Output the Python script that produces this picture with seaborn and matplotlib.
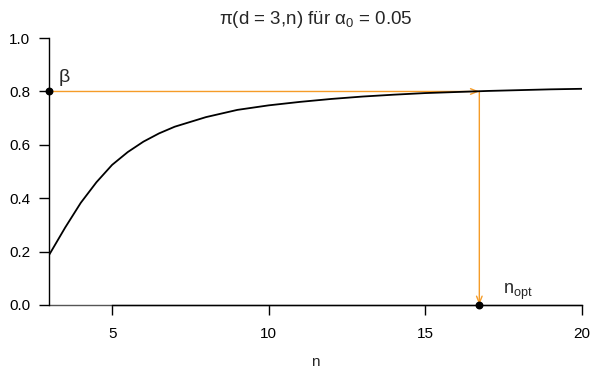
import matplotlib
matplotlib.use('Agg')
import matplotlib.pyplot as plt
import seaborn as sns
import pandas as pd

# power curve
n_vals = [3, 3.5, 4, 4.5, 5, 5.5, 6, 6.5, 7, 8, 9, 10, 11, 12, 13, 14, 15, 16, 17, 18, 19, 20]
power = [0.19, 0.29, 0.383, 0.46, 0.525, 0.573, 0.612, 0.643, 0.668, 0.704, 0.731, 0.748,
         0.761, 0.772, 0.781, 0.788, 0.794, 0.798, 0.802, 0.805, 0.808, 0.810]
beta = 0.8
n_opt = 16.73
x_ticks = [5, 10, 15, 20]
y_ticks = [0.0, 0.2, 0.4, 0.6, 0.8, 1.0]

df = pd.DataFrame({'n': n_vals, 'power': power})

sns.set_style('white')
plt.rcParams['font.family'] = ['Liberation Sans', 'DejaVu Sans']
plt.rcParams['mathtext.fontset'] = 'custom'
plt.rcParams['mathtext.rm'] = 'Liberation Sans'
plt.rcParams['mathtext.it'] = 'Liberation Sans'

fig = plt.figure(figsize=(5.92, 3.81), dpi=100)
ax = fig.add_axes([0.0836, 0.1995, 0.8990, 0.7005])

orange = '#F59C28'
ax.axhline(0, color='#555555', lw=1, zorder=2, clip_on=False)
sns.lineplot(data=df, x='n', y='power', ax=ax, color='black', lw=1.3, zorder=3)

ax.annotate('', xy=(n_opt, beta), xytext=(3, beta),
            arrowprops=dict(arrowstyle='->,head_length=0.5,head_width=0.2', color=orange, lw=1,
                            shrinkA=0, shrinkB=0), zorder=2)
ax.annotate('', xy=(n_opt, 0), xytext=(n_opt, beta),
            arrowprops=dict(arrowstyle='->,head_length=0.5,head_width=0.2', color=orange, lw=1,
                            shrinkA=0, shrinkB=0), zorder=2)

ax.scatter([3, n_opt], [beta, 0], color='black', s=22, zorder=5, clip_on=False)
ax.text(3.3, 0.82, 'β', fontsize=14, ha='left', va='bottom')
ax.text(17.5, 0.01, 'n$_{\\mathrm{opt}}$', fontsize=13, ha='left', va='bottom')

ax.set_xlim(3, 20)
ax.set_ylim(0, 1)
ax.set_xticks(x_ticks)
ax.set_yticks(y_ticks)
ax.set_yticklabels([f'{v:.1f}' for v in y_ticks])
ax.tick_params(axis='both', bottom=True, left=True, direction='out', length=7, width=1,
               colors='black', labelsize=11)
ax.tick_params(axis='x', pad=9)
ax.tick_params(axis='y', pad=7)
ax.spines['top'].set_visible(False)
ax.spines['right'].set_visible(False)
ax.spines['bottom'].set_bounds(5, 20)
for s in ['left', 'bottom']:
    ax.spines[s].set_color('black')
    ax.spines[s].set_linewidth(1)

ax.set_xlabel('n', fontsize=11, labelpad=10)
ax.set_ylabel('')
ax.set_title('π(d = 3,n) für α$_0$ = 0.05', fontsize=13.5, pad=10)

plt.savefig('out.png', dpi=100)
